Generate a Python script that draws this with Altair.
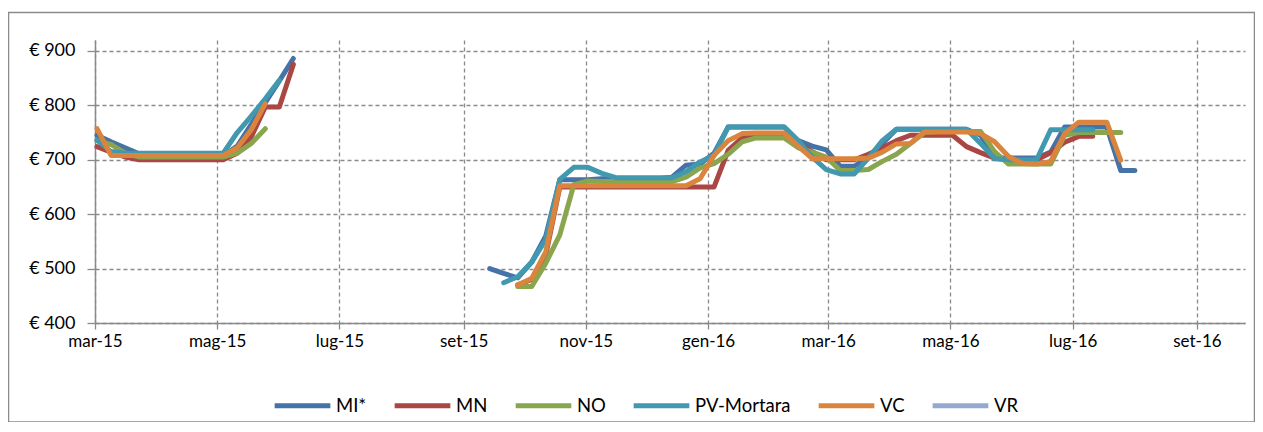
import altair as alt
import pandas as pd

# ---------------- data ----------------
series = ["MI*", "MN", "NO", "PV-Mortara", "VC", "VR"]
colors = ["#4572A7", "#AA4643", "#89A54E", "#4198AF", "#DB843D", "#93A9CF"]

dates1 = ["2015-03-02", "2015-03-09", "2015-03-16", "2015-03-23", "2015-03-30",
          "2015-04-06", "2015-04-13", "2015-04-20", "2015-04-27", "2015-05-04",
          "2015-05-11", "2015-05-18", "2015-05-25", "2015-06-01", "2015-06-08"]
dates2 = ["2015-09-14", "2015-09-21", "2015-09-28", "2015-10-05", "2015-10-12",
          "2015-10-19", "2015-10-26", "2015-11-02", "2015-11-09", "2015-11-16",
          "2015-11-23", "2015-11-30", "2015-12-07", "2015-12-14", "2015-12-21",
          "2015-12-28", "2016-01-04", "2016-01-11", "2016-01-18", "2016-01-25",
          "2016-02-01", "2016-02-08", "2016-02-15", "2016-02-22", "2016-02-29",
          "2016-03-07", "2016-03-14", "2016-03-21", "2016-03-28", "2016-04-04",
          "2016-04-11", "2016-04-18", "2016-04-25", "2016-05-02", "2016-05-09",
          "2016-05-16", "2016-05-23", "2016-05-30", "2016-06-06", "2016-06-13",
          "2016-06-20", "2016-06-27", "2016-07-04", "2016-07-11", "2016-07-18",
          "2016-07-25", "2016-08-01"]

mi_1 = [745, 733, 722, 711, 707, 707, 707, 707, 707, 707, 725, 765, 805, 845, 886]
mn_1 = [724, 714, 705, 700, 700, 700, 700, 700, 700, 700, 712, 742, 797, 797, 875]
no_1 = [735, 728, 712, 705, 705, 705, 705, 705, 705, 705, 712, 730, 757, None, None]
pv_1 = [736, 715, 712, 712, 712, 712, 712, 712, 712, 712, 750, 780, 812, 846, None]
vc_1 = [757, 708, 708, 708, 708, 708, 708, 708, 708, 708, 722, 755, 803, None, None]
vr_1 = [None] * 15

mi_2 = [500, 491, 483, 512, 560, 663, 663, 663, 665, 665, 665, 665, 665, 668, 690,
        692, 712, 760, 760, 760, 760, 760, 735, 725, 718, 688, 688, 705, 730, 756,
        756, 756, 756, 756, 756, 745, 703, 703, 703, 703, 714, 760, 760, 760, 760,
        680, 680]
mn_2 = [None, None, 470, 480, 525, 650, 650, 650, 650, 650, 650, 650, 650, 650, 650,
        650, 650, 717, 740, 748, 748, 748, 730, 715, 700, 700, 700, 710, 722, 735,
        745, 745, 745, 745, 724, 713, 703, 700, 700, 700, 713, 732, 743, 743, None,
        None, None]
no_2 = [None, None, 467, 467, 510, 562, 654, 661, 660, 660, 660, 660, 660, 660, 668,
        685, 693, 710, 733, 740, 740, 740, 722, 714, 705, 680, 680, 682, 697, 710,
        730, 750, 752, 752, 752, 752, 715, 692, 692, 692, 692, 745, 750, 750, 750,
        750, None]
pv_2 = [None, 474, 485, 512, 553, 664, 686, 686, 675, 667, 667, 667, 667, 667, 678,
        696, 708, 760, 760, 760, 760, 760, 735, 705, 682, 674, 674, 703, 735, 756,
        756, 756, 756, 756, 756, 730, 702, 700, 700, 700, 755, 755, 755, 755, None,
        None, None]
vc_2 = [None, None, 470, 482, 531, 652, 652, 652, 652, 652, 652, 652, 652, 652, 652,
        665, 708, 735, 748, 749, 749, 749, 725, 702, 702, 702, 702, 703, 714, 729,
        730, 751, 751, 751, 751, 748, 733, 706, 693, 692, 697, 748, 769, 769, 769,
        699, None]
vr_2 = [None] * 47

y_ticks = [400, 500, 600, 700, 800, 900]
tick_dates = ["2015-03-01", "2015-05-01", "2015-07-01", "2015-09-01", "2015-11-01",
              "2016-01-01", "2016-03-01", "2016-05-01", "2016-07-01", "2016-09-01"]
tick_labels = ["mar-15", "mag-15", "lug-15", "set-15", "nov-15",
               "gen-16", "mar-16", "mag-16", "lug-16", "set-16"]

# ---------------- table ----------------
part1 = {"MI*": mi_1, "MN": mn_1, "NO": no_1, "PV-Mortara": pv_1, "VC": vc_1, "VR": vr_1}
part2 = {"MI*": mi_2, "MN": mn_2, "NO": no_2, "PV-Mortara": pv_2, "VC": vc_2, "VR": vr_2}
rows = []
for s in series:
    for period, dates, part in ((1, dates1, part1), (2, dates2, part2)):
        for d, v in zip(dates, part[s]):
            if v is not None:
                rows.append({"serie": s, "period": period, "date": d, "value": v})
df = pd.DataFrame(rows)


def ms(d):
    return int(pd.Timestamp(d, tz="UTC").value // 10**6)


tick_ms = [ms(d) for d in tick_dates]
label_expr = ("[" + ",".join("'%s'" % t for t in tick_labels) + "][indexof(["
              + ",".join(str(t) for t in tick_ms) + "], +datum.value)]")

FONT = "Lato"
GRID = "#8a8a8a"

lines = alt.Chart(df).mark_line(
    strokeWidth=5, strokeCap="round", strokeJoin="round"
).encode(
    x=alt.X("date:T",
            scale=alt.Scale(type="utc", domain=[ms("2015-03-01"), ms("2016-09-25")]),
            axis=alt.Axis(values=tick_ms, labelExpr=label_expr, title=None,
                          grid=True, gridDash=[4, 3], gridColor=GRID, gridWidth=1.3,
                          domainColor=GRID, domainWidth=1.5, tickColor=GRID,
                          tickWidth=1.3, tickSize=6, labelPadding=4,
                          labelFont=FONT, labelFontSize=17, labelColor="black",
                          labelFlush=False, labelOverlap=False)),
    y=alt.Y("value:Q",
            scale=alt.Scale(domain=[400, 920], nice=False, zero=False),
            axis=alt.Axis(values=y_ticks, labelExpr="'€ ' + datum.value", title=None,
                          grid=True, gridDash=[4, 3], gridColor=GRID, gridWidth=1.3,
                          domainColor=GRID, domainWidth=1.5, tickColor=GRID,
                          tickWidth=1.3, tickSize=8, labelPadding=12,
                          labelFont=FONT, labelFontSize=18, labelColor="black")),
    color=alt.Color("serie:N",
                    scale=alt.Scale(domain=series, range=colors),
                    legend=alt.Legend(orient="none", legendX=177, legendY=335,
                                      direction="horizontal", title=None,
                                      symbolType="stroke", symbolSize=3100,
                                      symbolStrokeWidth=5, labelFont=FONT,
                                      labelFontSize=18.5, labelColor="black",
                                      labelOffset=3, columnPadding=17)),
    detail="period:N",
)

border = alt.Chart(alt.Data(values=[{"b": 1}])).mark_rect(
    fill="transparent", stroke="#8a8a8a", strokeWidth=1.5
).encode(
    x=alt.value(-86.5), x2=alt.value(1159.5), y=alt.value(-27.5), y2=alt.value(382)
)

chart = alt.layer(border, lines).properties(
    width=1150, height=283,
    autosize=alt.AutoSizeParams(type="none"),
    padding={"left": 87, "top": 32, "right": 10, "bottom": 99},
).configure_view(stroke=None)

chart.save("out.html", embed_options={"renderer": "svg", "actions": False})
